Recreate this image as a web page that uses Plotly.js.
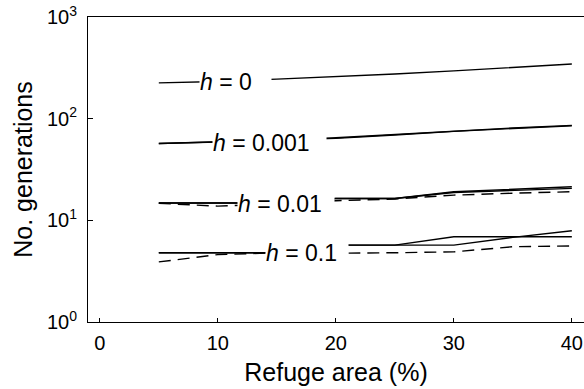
<!DOCTYPE html>
<html>
<head>
<meta charset="utf-8">
<script src="https://cdn.plot.ly/plotly-3.0.1.min.js"></script>
<style>html,body{margin:0;padding:0;background:#fff;}#chart{width:584px;height:389px;}</style>
</head>
<body>
<div id="chart"></div>
<script>
// Refuge area (%)
const refuge = [5, 10, 15, 20, 25, 30, 35, 40];

// No. generations
const h0_solid = [225, 232, 245, 258, 275, 295, 318, 345];
const h0001_solidA = [57, 59, 61, 64, 69, 75, 80, 85];
const h0001_solidB = [57, 59, 61, 65, 70, 76, 81, 86];
const h001_solidA = [14.8, 14.8, 14.8, 16.4, 16.4, 19.1, 20.3, 21.4];
const h001_solidB = [14.8, 14.8, 14.8, 16.4, 16.4, 18.8, 19.8, 20.6];
const h001_dashed = [14.7, 13.8, 14.4, 15.6, 16.2, 17.7, 18.5, 19.1];
const h01_solidA = [4.8, 4.8, 4.8, 5.7, 5.7, 6.9, 6.9, 6.9];
const h01_solidB = [4.8, 4.8, 4.8, 5.7, 5.7, 5.7, 6.8, 7.9];
const h01_dashed = [3.9, 4.6, 4.8, 4.75, 4.8, 4.9, 5.5, 5.6];

const xTicks = [0, 10, 20, 30, 40];
const yTicks = [1, 10, 100, 1000];
const yTickText = ['10<sup>0</sup>', '10<sup>1</sup>', '10<sup>2</sup>', '10<sup>3</sup>'];

const labelText = ['<i>h</i> = 0', '<i>h</i> = 0.001', '<i>h</i> = 0.01', '<i>h</i> = 0.1'];
const labelX = [8.39, 9.49, 11.61, 13.98];
const labelY = [2.36, 1.76, 1.16, 0.678];
const labelW = [71, 113, 96, 82];

function line(y, dash) {
  return {x: refuge, y: y, type: 'scatter', mode: 'lines', showlegend: false,
          hoverinfo: 'skip',
          line: {color: '#000', width: 1.4, dash: dash || 'solid'}};
}

const data = [
  line(h0_solid),
  line(h0001_solidA), line(h0001_solidB),
  line(h001_solidA), line(h001_solidB), line(h001_dashed, '12px,7px'),
  line(h01_solidA), line(h01_solidB), line(h01_dashed, '12px,7px')
];

const annotations = labelText.map((t, i) => ({
  x: labelX[i], y: labelY[i], xref: 'x', yref: 'y', text: t,
  showarrow: false, xanchor: 'left', yanchor: 'middle', align: 'left',
  width: labelW[i], bgcolor: '#fff', borderpad: 0,
  font: {family: 'Liberation Sans, Arial, sans-serif', size: 23, color: '#000'}
}));

const layout = {
  width: 584, height: 389,
  margin: {l: 88, r: 0, t: 17, b: 67},
  paper_bgcolor: '#fff', plot_bgcolor: '#fff',
  font: {family: 'Liberation Sans, Arial, sans-serif', color: '#000'},
  xaxis: {
    range: [-1, 41.03], tickvals: xTicks, ticks: 'inside', ticklen: 4,
    tickcolor: '#000', showline: true, mirror: true, linecolor: '#000', linewidth: 1,
    showgrid: false, zeroline: false, tickfont: {size: 20},
    ticklabelstandoff: 3,
    title: {text: 'Refuge area (%)', font: {size: 25}, standoff: 10}
  },
  yaxis: {
    type: 'log', range: [0, 3], tickvals: yTicks, ticktext: yTickText,
    ticks: 'inside', ticklen: 5, tickcolor: '#000',
    showline: true, mirror: true, linecolor: '#000', linewidth: 1,
    showgrid: false, zeroline: false, tickfont: {size: 20},
    ticklabelstandoff: 6,
    title: {text: 'No. generations', font: {size: 25}, standoff: 7}
  },
  annotations: annotations
};

Plotly.newPlot('chart', data, layout, {displayModeBar: false, staticPlot: true});
</script>
</body>
</html>
